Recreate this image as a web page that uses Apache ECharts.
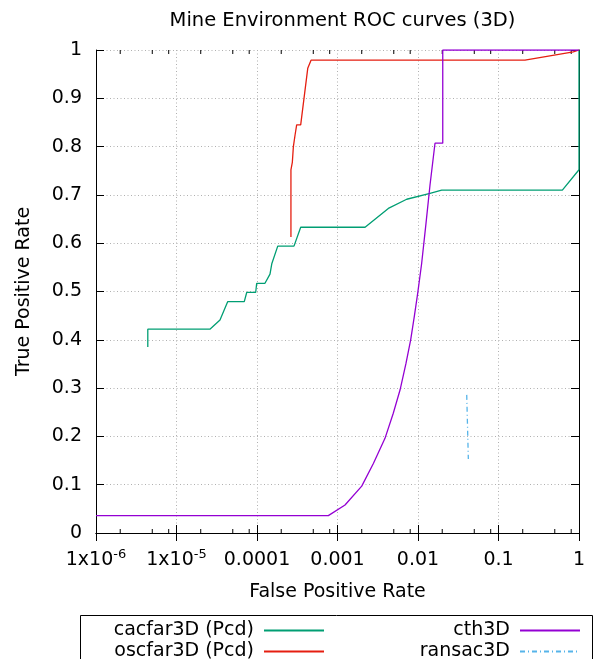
<!DOCTYPE html>
<html>
<head>
<meta charset="utf-8">
<title>Mine Environment ROC curves (3D)</title>
<script src="https://cdn.jsdelivr.net/npm/echarts@6/dist/echarts.min.js"></script>
<style>
  html, body { margin: 0; padding: 0; background: #fff; }
  #chart { width: 597px; height: 659px; }
</style>
</head>
<body>
<div id="chart"></div>
<script>
// ROC curves: [false positive rate, true positive rate]
const cacfar3D = [
  [4.4e-6, 0.385], [4.4e-6, 0.422], [2.6e-5, 0.422], [3.47e-5, 0.441],
  [4.32e-5, 0.479], [6.95e-5, 0.479], [7.45e-5, 0.498], [9.63e-5, 0.498],
  [9.91e-5, 0.517], [1.256e-4, 0.517], [1.45e-4, 0.536], [1.53e-4, 0.558],
  [1.81e-4, 0.594], [2.88e-4, 0.594], [3.49e-4, 0.633], [2.2e-3, 0.633],
  [4.28e-3, 0.672], [7.24e-3, 0.691], [0.0141, 0.703], [0.0197, 0.710],
  [0.621, 0.710], [1.0, 0.752], [1.0, 1.0]
];
const oscfar3D = [
  [2.64e-4, 0.613], [2.64e-4, 0.752], [2.75e-4, 0.768], [2.83e-4, 0.800],
  [2.97e-4, 0.824], [3.05e-4, 0.824], [3.11e-4, 0.845], [3.49e-4, 0.845],
  [4.27e-4, 0.962], [4.69e-4, 0.979], [0.213, 0.979], [0.85, 0.996], [1.0, 1.0]
];
const cth3D = [
  [1e-6, 0.036], [7.69e-4, 0.036], [1.24e-3, 0.058], [2.0e-3, 0.097],
  [2.79e-3, 0.144], [3.89e-3, 0.196], [4.93e-3, 0.248], [5.98e-3, 0.296],
  [7.09e-3, 0.351], [8.11e-3, 0.400], [8.99e-3, 0.448], [9.91e-3, 0.496],
  [0.0111, 0.558], [0.01257, 0.641], [0.01409, 0.720], [0.01626, 0.807],
  [0.0203, 0.807], [0.0203, 1.0], [1.0, 1.0]
];
const ransac3D = [
  [0.0403, 0.286], [0.0422, 0.153]
];

const seriesNames = ['cacfar3D (Pcd)', 'oscfar3D (Pcd)', 'cth3D', 'ransac3D'];
const seriesColors = ['#009e73', '#e51e10', '#9400d3', '#56b4e9'];

// Decade tick labels (^ marks an exponent) and minor tick positions
const xTickLabels = ['1x10^-6', '1x10^-5', '0.0001', '0.001', '0.01', '0.1', '1'];
const xMinorTicks = [];
[1e-6, 1e-5, 1e-4, 1e-3, 1e-2, 1e-1].forEach(d => {
  [2, 5, 8].forEach(m => xMinorTicks.push(m * d));
});

const FONT = 'DejaVu Sans';
const FS = 19;
const chart = echarts.init(document.getElementById('chart'), null, { renderer: 'canvas' });

function xLabel(v) {
  const i = Math.round(Math.log10(v)) + 6;
  const s = xTickLabels[i] || '';
  const parts = s.split('^');
  return parts.length > 1 ? '{b|' + parts[0] + '}{s|' + parts[1] + '}' : '{b|' + s + '}';
}

const gridLine = { show: true, lineStyle: { color: '#b0b0b0', width: 1, type: [1, 2.5] } };
const blackLine = { show: true, lineStyle: { color: '#000', width: 1 } };

const legendBase = {
  orient: 'horizontal', align: 'right', padding: 0, itemWidth: 60, itemHeight: 2,
  selectedMode: false,
  itemStyle: { opacity: 0 },
  textStyle: { fontFamily: FONT, fontSize: FS, color: '#000', padding: [0, 5, 0, 0] }
};

const option = {
  animation: false,
  backgroundColor: '#fff',
  title: {
    text: 'Mine Environment ROC curves (3D)',
    left: 337.5, top: 6, textAlign: 'center',
    textStyle: { fontFamily: FONT, fontSize: 19.5, fontWeight: 'normal', color: '#000' }
  },
  grid: { left: 96, top: 50, width: 483, height: 483 },
  legend: [
    Object.assign({ data: [seriesNames[0]], right: 272, top: 621 }, legendBase),
    Object.assign({ data: [seriesNames[1]], right: 272, top: 642 }, legendBase),
    Object.assign({ data: [seriesNames[2]], right: 16, top: 621 }, legendBase),
    Object.assign({ data: [seriesNames[3]], right: 16, top: 642 }, legendBase)
  ],
  graphic: [{
    type: 'rect', silent: true,
    shape: { x: 80.5, y: 615.5, width: 512, height: 60 },
    style: { fill: 'none', stroke: '#000', lineWidth: 1 }
  }],
  xAxis: [{
    type: 'log', logBase: 10, min: 1e-6, max: 1, splitNumber: 6,
    position: 'bottom',
    name: 'False Positive Rate', nameLocation: 'middle', nameGap: 50,
    nameTextStyle: { fontFamily: FONT, fontSize: FS, color: '#000' },
    axisLine: blackLine,
    axisTick: { show: true, inside: true, length: 8, lineStyle: { color: '#000' } },
    minorTick: { show: false },
    splitLine: gridLine,
    axisLabel: {
      margin: 15, formatter: xLabel, color: '#000',
      rich: {
        b: { fontFamily: FONT, fontSize: FS, color: '#000', lineHeight: 22, verticalAlign: 'bottom' },
        s: { fontFamily: FONT, fontSize: 13, color: '#000', lineHeight: 13, verticalAlign: 'top' }
      }
    }
  }, {
    type: 'log', logBase: 10, min: 1e-6, max: 1, splitNumber: 6,
    position: 'top',
    axisLine: blackLine,
    axisTick: { show: true, inside: true, length: 8, lineStyle: { color: '#000' } },
    axisLabel: { show: false },
    splitLine: { show: false }
  }],
  yAxis: [{
    type: 'value', min: 0, max: 1, interval: 0.1,
    position: 'left',
    name: 'True Positive Rate', nameLocation: 'middle', nameGap: 62, nameRotate: 90,
    nameTextStyle: { fontFamily: FONT, fontSize: FS, color: '#000' },
    axisLine: blackLine,
    axisTick: { show: true, inside: true, length: 8, lineStyle: { color: '#000' } },
    splitLine: gridLine,
    axisLabel: {
      margin: 14, color: '#000', fontFamily: FONT, fontSize: FS,
      formatter: v => String(+v.toFixed(1))
    }
  }, {
    type: 'value', min: 0, max: 1, interval: 0.1,
    position: 'right',
    axisLine: blackLine,
    axisTick: { show: true, inside: true, length: 8, lineStyle: { color: '#000' } },
    splitLine: { show: false },
    axisLabel: { show: false }
  }],
  series: [
    {
      name: seriesNames[0], type: 'line', data: cacfar3D, symbol: 'none', showSymbol: false,
      lineStyle: { color: seriesColors[0], width: 1.3 }, itemStyle: { color: seriesColors[0] }
    },
    {
      name: seriesNames[1], type: 'line', data: oscfar3D, symbol: 'none', showSymbol: false,
      lineStyle: { color: seriesColors[1], width: 1.3 }, itemStyle: { color: seriesColors[1] }
    },
    {
      name: seriesNames[2], type: 'line', data: cth3D, symbol: 'none', showSymbol: false,
      lineStyle: { color: seriesColors[2], width: 1.3 }, itemStyle: { color: seriesColors[2] }
    },
    {
      name: seriesNames[3], type: 'line', data: ransac3D, symbol: 'none', showSymbol: false,
      lineStyle: { color: seriesColors[3], width: 1.3, type: [5, 3, 1, 3] }, itemStyle: { color: seriesColors[3] }
    },
    {
      // minor ticks on the bottom and top edges of the log axis
      name: 'minorTicks', type: 'custom', silent: true, clip: false,
      data: xMinorTicks.map(v => [v, 0]),
      encode: { x: 0, y: 1 },
      renderItem: function (params, api) {
        const v = api.value(0);
        const b = api.coord([v, 0]);
        const t = api.coord([v, 1]);
        const style = { stroke: '#000', lineWidth: 1 };
        return {
          type: 'group',
          children: [
            { type: 'line', shape: { x1: b[0], y1: b[1], x2: b[0], y2: b[1] - 4 }, style },
            { type: 'line', shape: { x1: t[0], y1: t[1], x2: t[0], y2: t[1] + 4 }, style }
          ]
        };
      }
    }
  ]
};

chart.setOption(option);
</script>
</body>
</html>
